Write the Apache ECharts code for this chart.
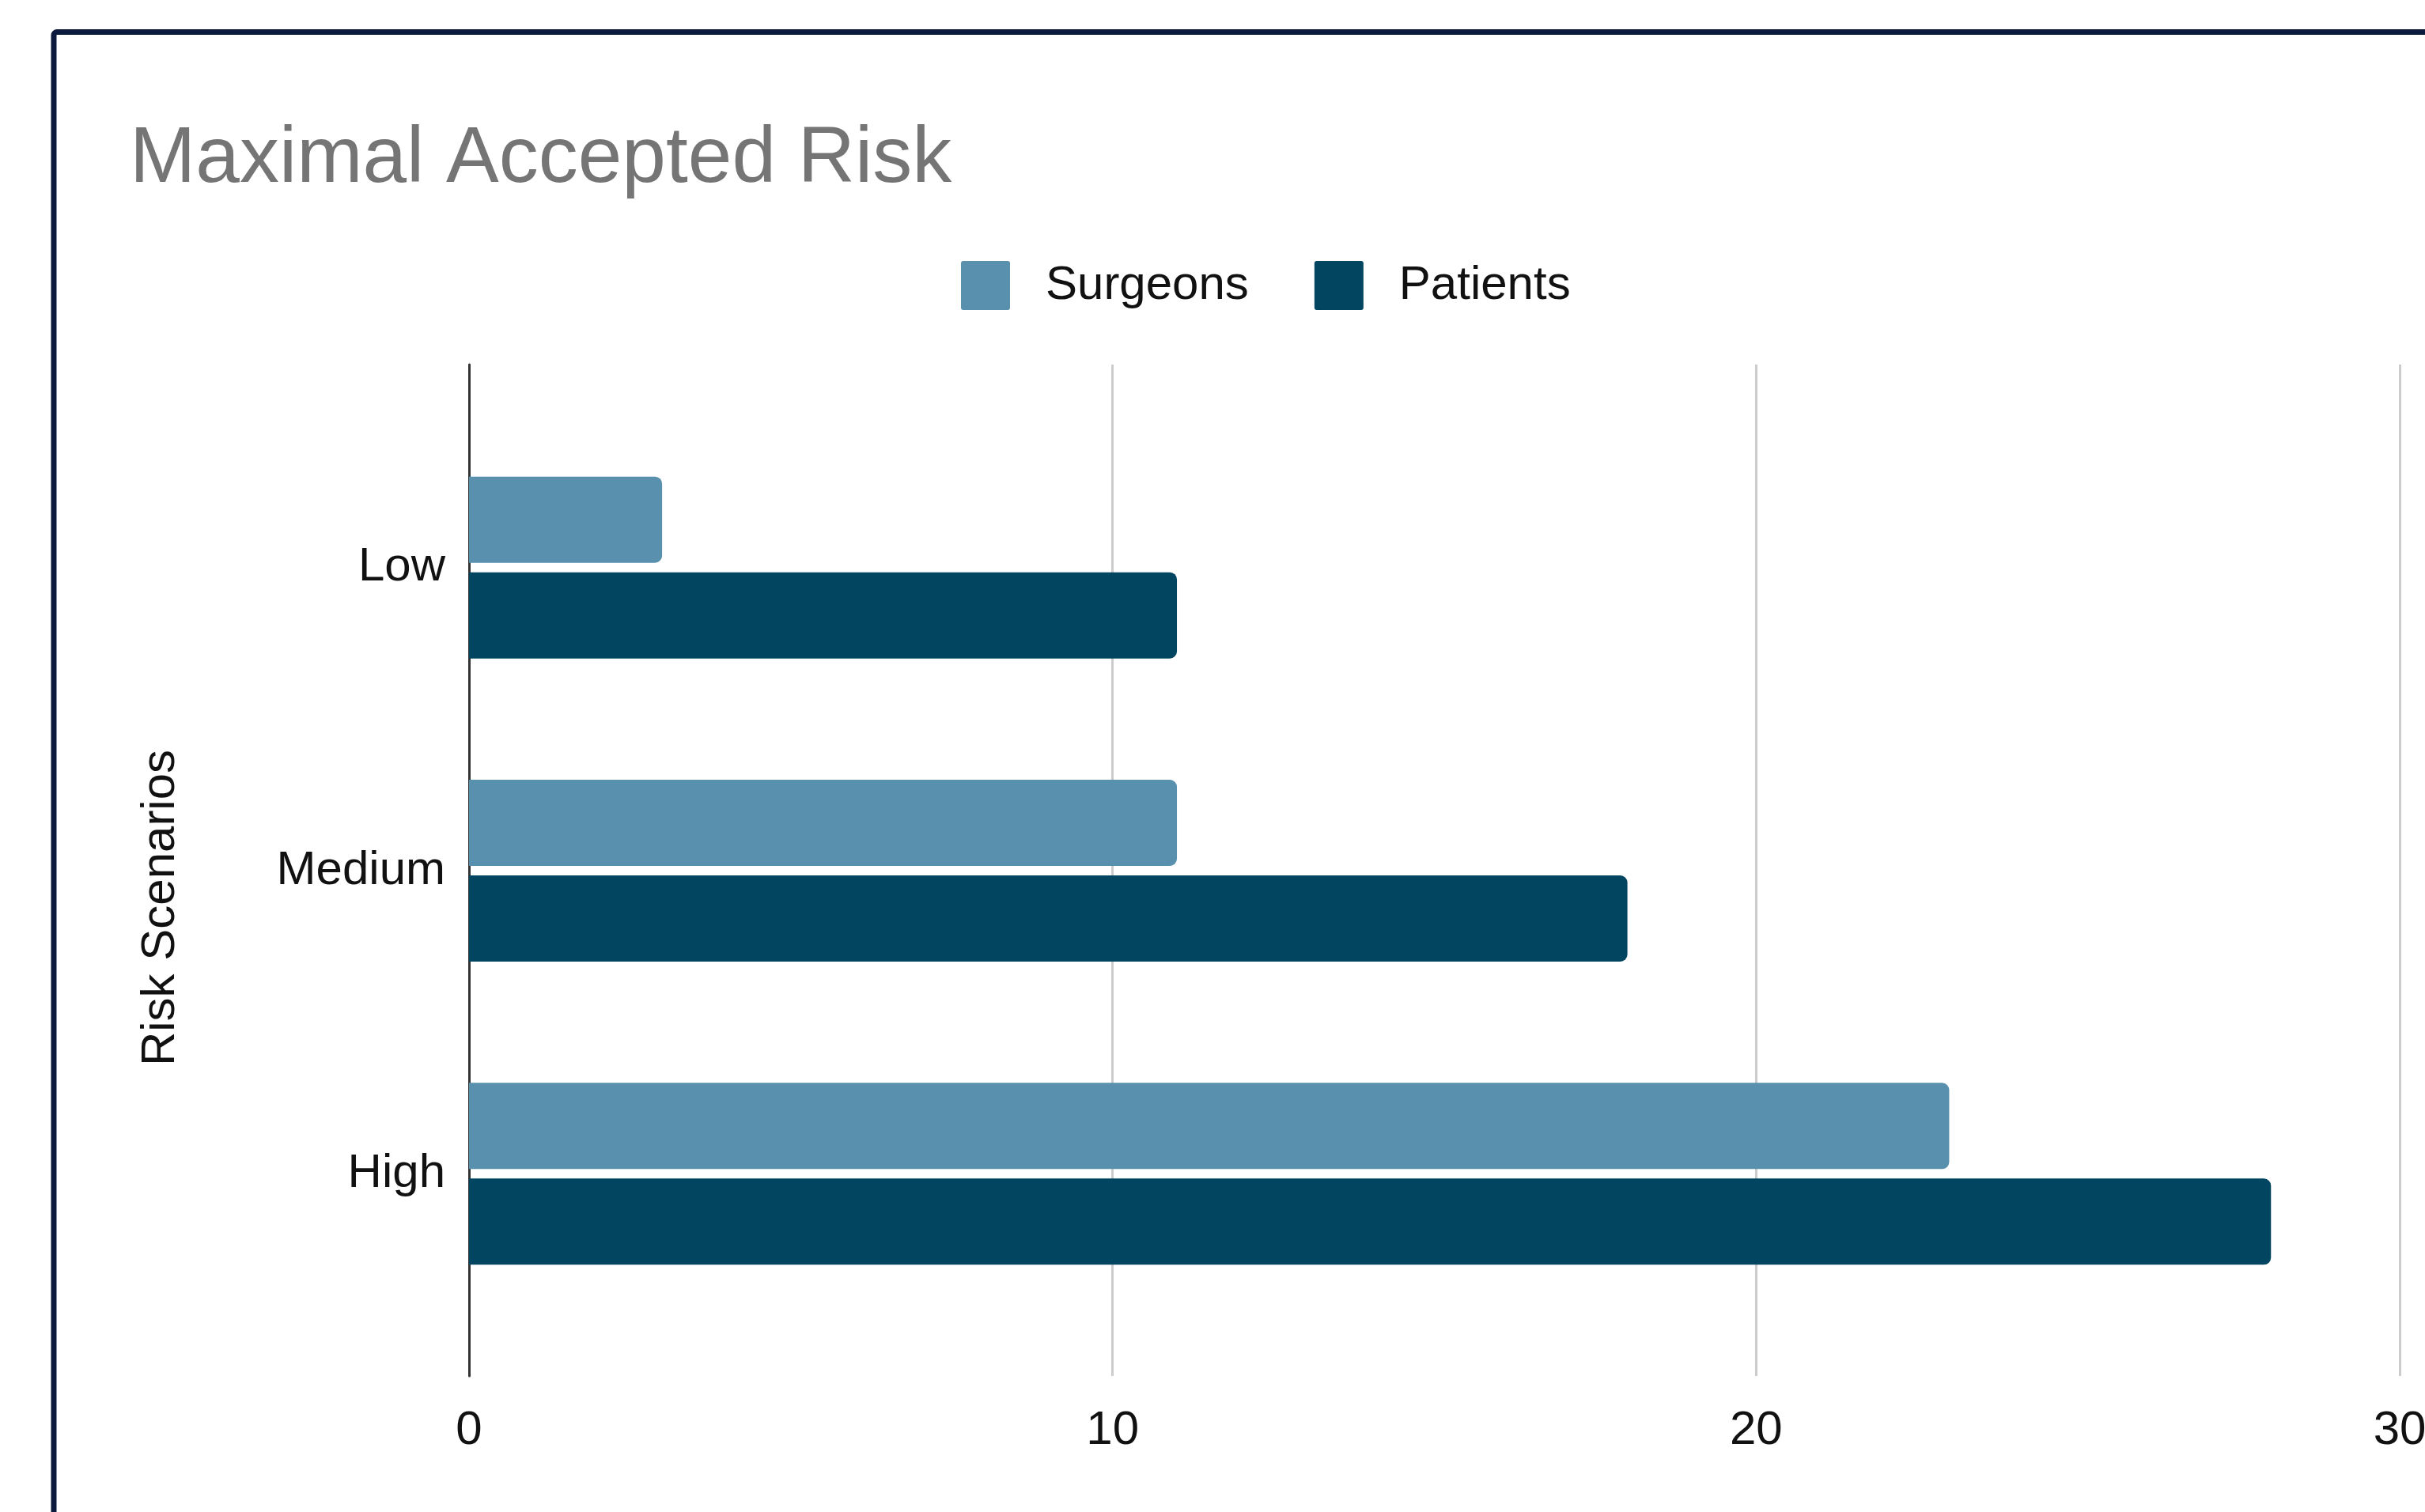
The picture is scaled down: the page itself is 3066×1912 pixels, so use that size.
<!DOCTYPE html>
<html>
<head>
<meta charset="utf-8">
<title>Maximal Accepted Risk</title>
<script src="https://cdn.jsdelivr.net/npm/echarts@6/dist/echarts.min.js"></script>
<style>
  html, body { margin: 0; padding: 0; background: #fff; }
  #chart { width: 3066px; height: 1912px; }
</style>
</head>
<body>
<div id="chart"></div>
<script>
// data
let categories = ["Low", "Medium", "High"];
let surgeons = [3, 11, 23];
let patients = [11, 18, 28];
let xTicks = [0, 30, 10]; // min, max, interval

let font = "'Liberation Sans', Arial, sans-serif";

let myChart = echarts.init(document.getElementById("chart"));

// square legend icon with small rounded corners
let legendIcon = "path://M3,0 H59 Q62,0 62,3 V59 Q62,62 59,62 H3 Q0,62 0,59 V3 Q0,0 3,0 Z";

let option = {
  backgroundColor: "#fff",
  animation: false,
  title: {
    text: "Maximal Accepted Risk",
    left: 164,
    top: 152,
    padding: 0,
    textStyle: { fontFamily: font, fontSize: 100, fontWeight: "normal", color: "#757575" },
  },
  legend: {
    left: 1215,
    top: 330,
    padding: 0,
    itemWidth: 62,
    itemHeight: 62,
    itemGap: 83,
    icon: legendIcon,
    data: ["Surgeons", "Patients"],
    textStyle: { fontFamily: font, fontSize: 60, color: "#111", padding: [0, 0, 0, 40] },
  },
  grid: [
    // outer grid : gridlines, x labels and y axis line
    { left: 593, right: 32, top: 461, bottom: 172, outerBoundsMode: "none" },
    // inner grid : bars and category labels
    { left: 593, right: 32, top: 526, bottom: 236, outerBoundsMode: "none" },
  ],
  xAxis: [
    {
      gridIndex: 0,
      type: "value",
      min: xTicks[0],
      max: xTicks[1],
      interval: xTicks[2],
      axisLine: { show: false },
      axisTick: { show: false },
      axisLabel: { fontFamily: font, fontSize: 60, color: "#111", margin: 39 },
      splitLine: { show: true, lineStyle: { color: "#cccccc", width: 3 } },
    },
    {
      gridIndex: 1,
      type: "value",
      min: xTicks[0],
      max: xTicks[1],
      show: false,
    },
  ],
  yAxis: [
    {
      gridIndex: 0,
      type: "value",
      min: 0,
      max: 1,
      axisLine: { show: true, lineStyle: { color: "#333", width: 3 } },
      axisTick: { show: false },
      axisLabel: { show: false },
      splitLine: { show: false },
    },
    {
      gridIndex: 1,
      type: "category",
      inverse: true,
      data: categories,
      axisLine: { show: false },
      axisTick: { show: false },
      axisLabel: { fontFamily: font, fontSize: 60, color: "#111", margin: 30 },
      splitLine: { show: false },
    },
  ],
  graphic: [
    // chart frame, cut by the right and bottom edges
    {
      type: "rect",
      shape: { x: 68, y: 40.5, width: 3200, height: 2000, r: 4 },
      style: { fill: null, stroke: "#0b1a3d", lineWidth: 7 },
      z: 10,
    },
    // y axis title
    {
      type: "text",
      x: 203,
      y: 1148,
      rotation: Math.PI / 2,
      style: {
        text: "Risk Scenarios",
        fontFamily: font,
        fontSize: 60,
        fill: "#111",
        align: "center",
        verticalAlign: "middle",
      },
    },
  ],
  series: [
    {
      name: "Surgeons",
      type: "bar",
      xAxisIndex: 1,
      yAxisIndex: 1,
      data: surgeons,
      barCategoryGap: "40%",
      barGap: "11%",
      itemStyle: { color: "#5990ae", borderRadius: [0, 9, 9, 0] },
    },
    {
      name: "Patients",
      type: "bar",
      xAxisIndex: 1,
      yAxisIndex: 1,
      data: patients,
      barCategoryGap: "40%",
      barGap: "11%",
      itemStyle: { color: "#024561", borderRadius: [0, 9, 9, 0] },
    },
  ],
};

myChart.setOption(option);
</script>
</body>
</html>
